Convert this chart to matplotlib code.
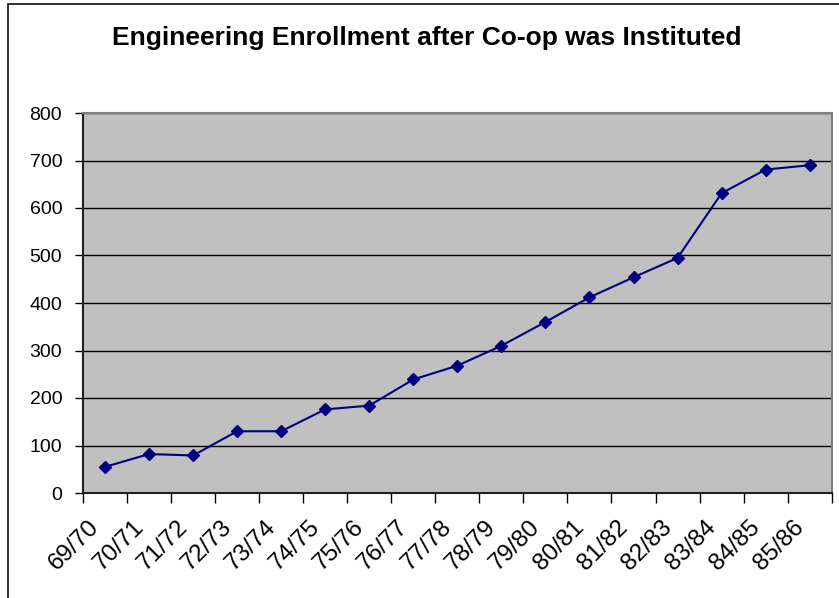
import matplotlib.pyplot as plt
from matplotlib.patches import Rectangle
from matplotlib.transforms import ScaledTranslation

# data
years = ['69/70', '70/71', '71/72', '72/73', '73/74', '74/75', '75/76', '76/77', '77/78',
         '78/79', '79/80', '80/81', '81/82', '82/83', '83/84', '84/85', '85/86']
enrollment = [55, 82, 79, 130, 130, 176, 184, 239, 268, 310, 360, 412, 454, 495, 631, 681, 690]

plt.rcParams['font.family'] = ['Liberation Sans', 'DejaVu Sans']

fig = plt.figure(figsize=(8.39, 5.98), dpi=100)
fig.patch.set_facecolor('white')

# outer chart border (only left and top edges visible in the reference)
W, H = 839, 598
fig.add_artist(Rectangle((8 / W, -0.05), 1.2, 1 - 4 / H + 0.05, transform=fig.transFigure,
                         fill=False, edgecolor='#202020', linewidth=1.3))

ax = fig.add_axes([83 / W, 1 - 493 / H, (831.7 - 83) / W, (493 - 113) / H])
ax.set_facecolor('#C0C0C0')

x = [i + 0.5 for i in range(len(years))]
ax.plot(x, enrollment, color='#000080', linewidth=1.5, marker='D', markersize=6.4,
        markerfacecolor='#000080', markeredgecolor='#000080', zorder=3)

ax.set_xlim(0, len(years))
ax.set_ylim(0, 800)
ax.set_yticks(range(0, 801, 100))
ax.yaxis.grid(True, color='black', linewidth=1.0)
ax.set_axisbelow(True)

ax.set_xticks(range(len(years) + 1))
ax.set_xticklabels([])
ax.set_xticks(x, minor=True)
ax.set_xticklabels(years, minor=True, rotation=45, ha='right', rotation_mode='anchor',
                   fontsize=17.5)
ax.tick_params(axis='x', which='minor', length=0, pad=22)
ax.tick_params(axis='x', which='major', length=7, width=1.0, direction='out', color='black')
ax.tick_params(axis='y', length=6, width=1.0, direction='out', labelsize=14, pad=9,
               color='black')
shift = ScaledTranslation(-0.09, 0, fig.dpi_scale_trans)
for lbl in ax.get_xticklabels(minor=True):
    lbl.set_va('center')
    lbl.set_transform(lbl.get_transform() + shift)

ax.spines['left'].set_color('#202020')
ax.spines['bottom'].set_color('#202020')
ax.spines['top'].set_color('#808080')
ax.spines['right'].set_color('#808080')
for s in ax.spines.values():
    s.set_linewidth(1.5)

fig.text(427 / W, 1 - 38 / H, 'Engineering Enrollment after Co-op was Instituted',
         ha='center', va='center', fontsize=19, fontweight='bold')

fig.savefig('out.png', dpi=100)
